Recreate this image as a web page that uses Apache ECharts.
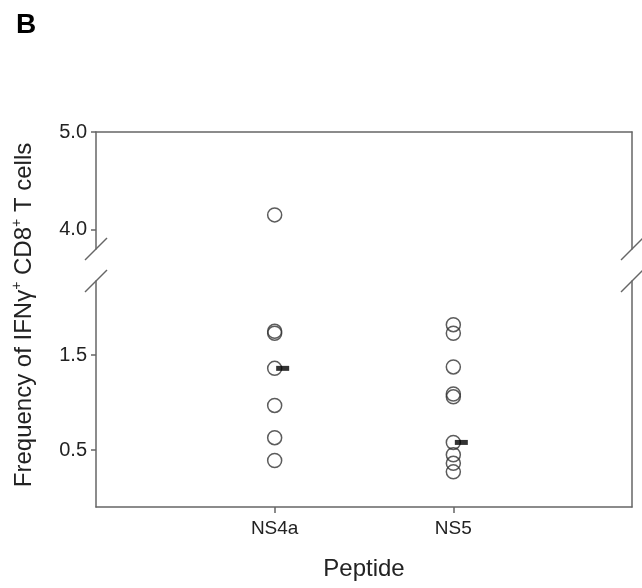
<!DOCTYPE html>
<html>
<head>
<meta charset="utf-8">
<script src="https://cdn.jsdelivr.net/npm/echarts@6/dist/echarts.min.js"></script>
<style>
  html, body { margin: 0; padding: 0; background: #fff; }
  #chart { width: 642px; height: 588px; }
</style>
</head>
<body>
<div id="chart"></div>
<script>
// 数据
const categories = ['NS4a', 'NS5'];
const ns4aValues = [4.15, 1.75, 1.73, 1.36, 0.97, 0.63, 0.39];
const ns5Values = [1.82, 1.73, 1.375, 1.09, 1.06, 0.58, 0.45, 0.36, 0.27];
const medianValues = [1.36, 0.58];
const upperTicks = [4.0, 5.0];
const lowerTicks = [0.5, 1.5];
const breakAt = 3; // 高于此值画在上半段

// 布局（断轴：上下两个 grid）
const LEFT = 96, RIGHT = 632;
const UP_TOP = 132, UP_BOTTOM = 249;
const LOW_TOP = 281, LOW_BOTTOM = 507;
const FONT = '"Liberation Sans", Arial, sans-serif';
const LINE_COLOR = '#666';

const xCats = [''].concat(categories, ['']);

function points(vals, cat, upper) {
  return vals.filter(v => upper ? v > breakAt : v <= breakAt).map(v => [cat, v]);
}

function scatter(gridIdx, upper) {
  return [
    { type: 'scatter', xAxisIndex: gridIdx, yAxisIndex: gridIdx * 2,
      symbol: 'circle', symbolSize: 14,
      itemStyle: { color: 'rgba(0,0,0,0)', borderColor: '#333', borderWidth: 1.5 },
      data: points(ns4aValues, categories[0], upper).concat(points(ns5Values, categories[1], upper)) }
  ];
}

const medianData = categories.map((c, i) => [c, medianValues[i]]);

const chart = echarts.init(document.getElementById('chart'));

function yAxisPair(gridIdx, min, max, ticks) {
  const left = {
    type: 'value', gridIndex: gridIdx, position: 'left', min: min, max: max,
    axisLine: { show: true, onZero: false, lineStyle: { color: LINE_COLOR, width: 1.5 } },
    axisTick: { show: true, length: 5, customValues: ticks, lineStyle: { color: LINE_COLOR, width: 1.5 } },
    axisLabel: { customValues: ticks, margin: 9, color: '#222', fontSize: 20, fontFamily: FONT,
      formatter: v => v.toFixed(1) },
    splitLine: { show: false }
  };
  const right = {
    type: 'value', gridIndex: gridIdx, position: 'right', min: min, max: max,
    axisLine: { show: true, onZero: false, lineStyle: { color: LINE_COLOR, width: 1.5 } },
    axisTick: { show: false }, axisLabel: { show: false }, splitLine: { show: false }
  };
  return [left, right];
}

// 断轴斜线
function slash(x, y) {
  return { type: 'line', shape: { x1: x - 11, y1: y + 11, x2: x + 11, y2: y - 11 },
    style: { stroke: LINE_COLOR, lineWidth: 1.5 }, z: 10 };
}

const option = {
  animation: false,
  grid: [
    { left: LEFT, right: 642 - RIGHT, top: LOW_TOP, bottom: 588 - LOW_BOTTOM },
    { left: LEFT, right: 642 - RIGHT, top: UP_TOP, bottom: 588 - UP_BOTTOM }
  ],
  xAxis: [
    { type: 'category', gridIndex: 0, data: xCats, boundaryGap: false, position: 'bottom',
      axisLine: { onZero: false, lineStyle: { color: LINE_COLOR, width: 1.5 } },
      axisTick: { length: 6, interval: (i, v) => v !== '', lineStyle: { color: LINE_COLOR, width: 1.5 } },
      axisLabel: { interval: 0, margin: 12, color: '#222', fontSize: 19, fontFamily: FONT },
      name: 'Peptide', nameLocation: 'middle', nameGap: 50,
      nameTextStyle: { color: '#222', fontSize: 24, fontFamily: FONT } },
    { type: 'category', gridIndex: 1, data: xCats, boundaryGap: false, position: 'top',
      axisLine: { onZero: false, lineStyle: { color: LINE_COLOR, width: 1.5 } },
      axisTick: { show: false }, axisLabel: { show: false } }
  ],
  yAxis: yAxisPair(0, -0.1, 2.28, lowerTicks).concat(yAxisPair(1, 3.8, 5.0, upperTicks)),
  series: scatter(0, false).concat(scatter(1, true), [
    { type: 'scatter', xAxisIndex: 0, yAxisIndex: 0, symbol: 'rect',
      symbolSize: [13, 5], symbolOffset: [8, 0], z: 5,
      itemStyle: { color: '#000' }, data: medianData }
  ]),
  graphic: [
    { type: 'text', left: 16, top: 11,
      style: { text: 'B', font: 'bold 28px ' + FONT, fill: '#000' } },
    { type: 'text', x: 24, y: 315, rotation: Math.PI / 2,
      style: {
        text: '{a|Frequency of IFNγ}{s|+}{a| CD8}{s|+}{a| T cells}',
        align: 'center', verticalAlign: 'middle',
        rich: {
          a: { fontSize: 24, fontFamily: FONT, fill: '#222', lineHeight: 28 },
          s: { fontSize: 14, fontFamily: FONT, fill: '#222', verticalAlign: 'top', lineHeight: 28 }
        }
      } },
    // 断轴斜线
    slash(LEFT, UP_BOTTOM), slash(LEFT, LOW_TOP),
    slash(RIGHT, UP_BOTTOM), slash(RIGHT, LOW_TOP)
  ]
};

chart.setOption(option);
</script>
</body>
</html>
